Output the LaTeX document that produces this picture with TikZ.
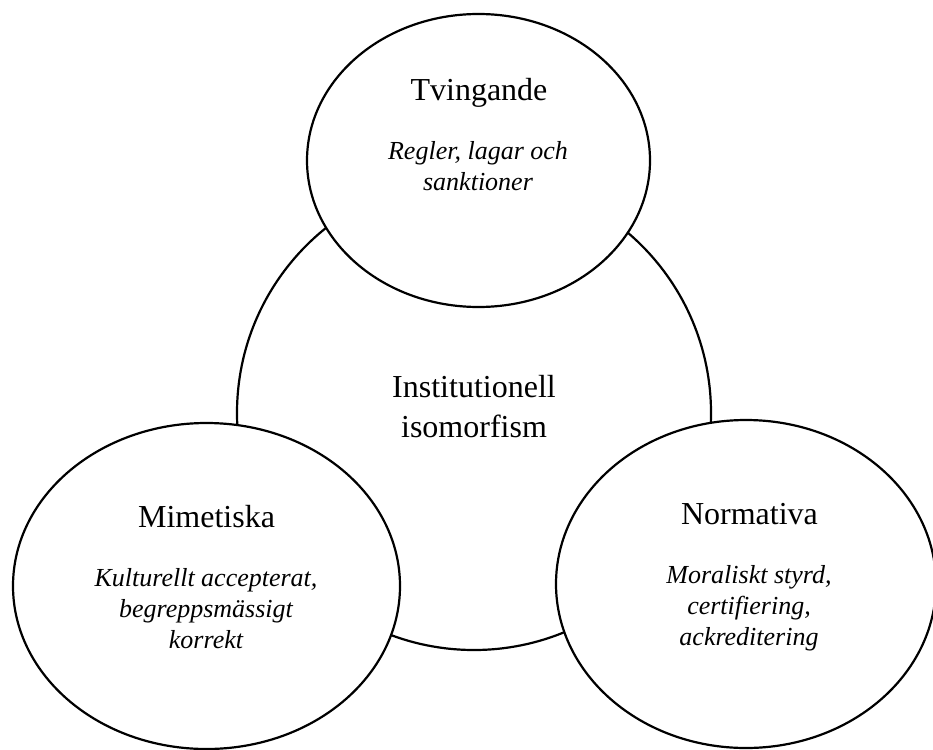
\documentclass[tikz,border=0pt]{standalone}
\usepackage{fontspec}
\setmainfont{Liberation Serif}
\usetikzlibrary{shapes,positioning}

\begin{document}
\begin{tikzpicture}[x=1pt, y=-1pt,
    ring/.style={ellipse, draw, line width=2.2pt, fill=white, inner sep=0pt},
    hub/.style={circle, draw, line width=2.2pt, fill=white, inner sep=0pt},
    title/.style={font=\fontsize{32}{40}\selectfont, anchor=base, align=center, inner sep=0pt},
    desc/.style={font=\fontsize{26}{31}\selectfont\itshape, anchor=base, align=center, inner sep=0pt}]
    \useasboundingbox (0,0) rectangle (933,749);

    % Central circle
    \node [hub, minimum size=474pt] (iso) at (474,413) {};
    \node [title] (isotxt) at (474,437) {Institutionell\\isomorfism};

    % Tvingande
    \node [ring, minimum width=343pt, minimum height=293pt] (tv) at (478.5,160.5) {};
    \node [title] (tvtxt) at (479,100) {Tvingande};
    \node [desc] (tvdesc) at (478,190) {Regler, lagar och\\sanktioner};

    % Mimetiska
    \node [ring, minimum width=387pt, minimum height=326pt] (mim) at (206.5,586) {};
    \node [title] (mimtxt) at (206.5,527) {Mimetiska};
    \node [desc] (mimdesc) at (206,648) {Kulturellt accepterat,\\begreppsmässigt\\korrekt};

    % Normativa
    \node [ring, minimum width=380pt, minimum height=328pt] (nor) at (746,584) {};
    \node [title] (nortxt) at (749.5,524) {Normativa};
    \node [desc] (nordesc) at (749,645) {Moraliskt styrd,\\certifiering,\\ackreditering};
\end{tikzpicture}
\end{document}
